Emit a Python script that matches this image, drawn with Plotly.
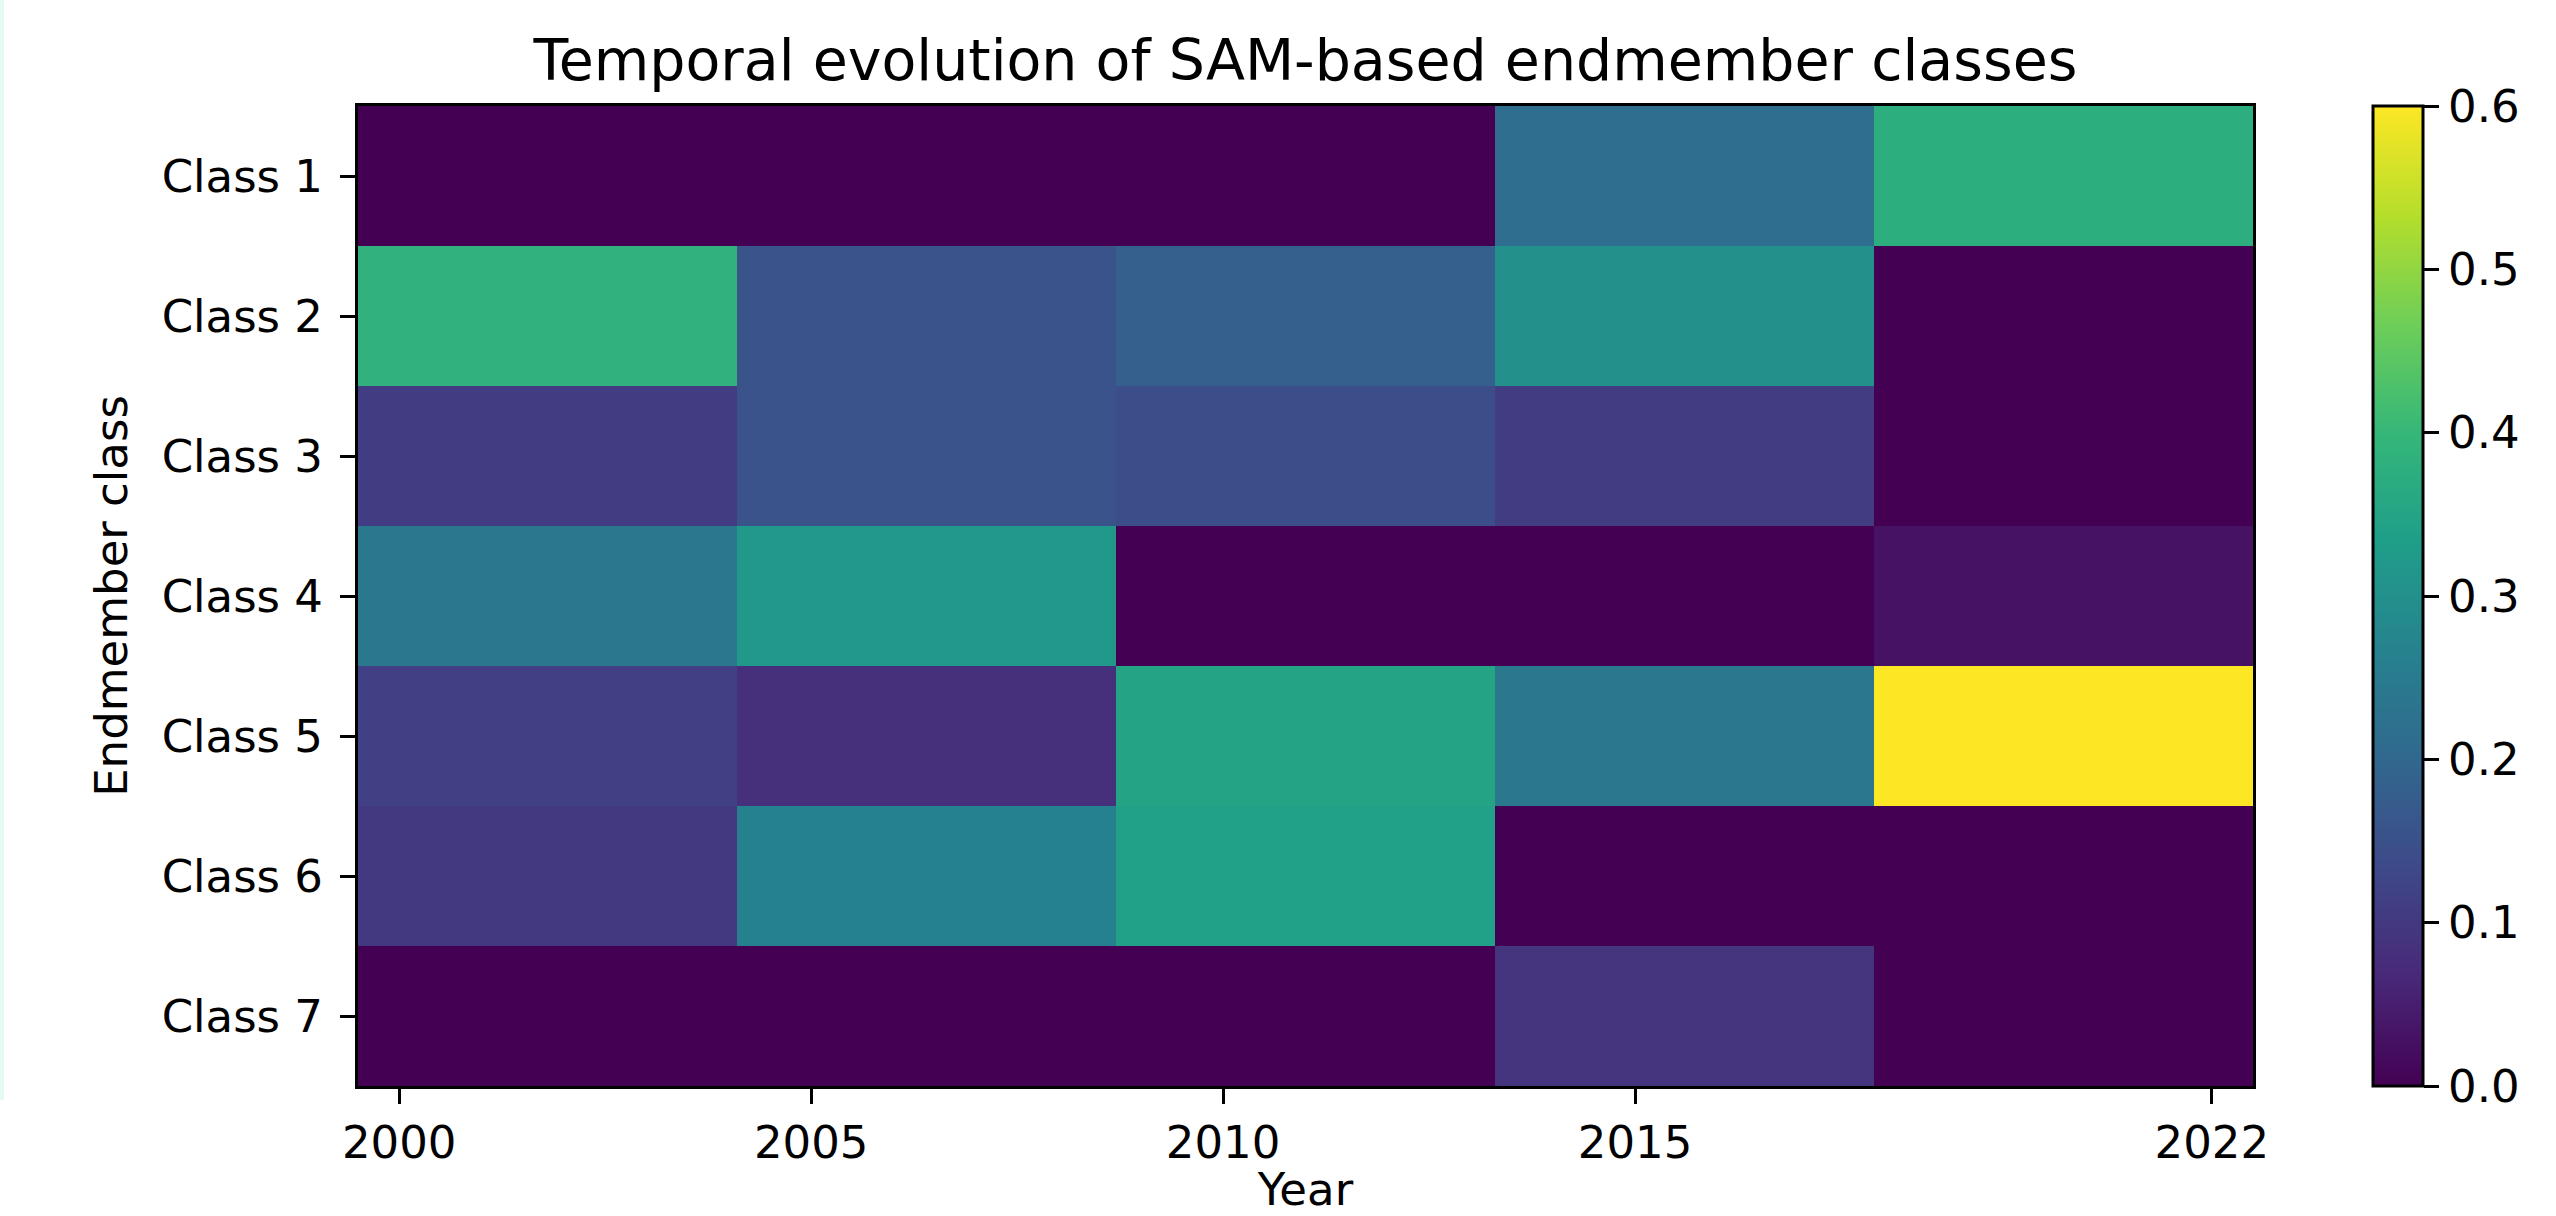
import numpy as np
import plotly.graph_objects as go

# ---- data ----
years = [2000, 2005, 2010, 2015, 2022]
classes = ["Class 1", "Class 2", "Class 3", "Class 4", "Class 5", "Class 6", "Class 7"]
class1 = [0.0, 0.0, 0.0, 0.215, 0.375]
class2 = [0.385, 0.155, 0.18, 0.30, 0.0]
class3 = [0.11, 0.155, 0.145, 0.11, 0.0]
class4 = [0.24, 0.32, 0.0, 0.0, 0.03]
class5 = [0.115, 0.08, 0.35, 0.24, 0.60]
class6 = [0.10, 0.265, 0.34, 0.0, 0.0]
class7 = [0.0, 0.0, 0.0, 0.09, 0.0]
cbar_ticks = [0.0, 0.1, 0.2, 0.3, 0.4, 0.5, 0.6]

z = [class1, class2, class3, class4, class5, class6, class7]

# imshow-like extent: from first year - 0.5 to last year + 0.5, equal-width cells
x_edges = np.linspace(years[0] - 0.5, years[-1] + 0.5, len(years) + 1)

W, H = 2556, 1216
L, R, T, B = 358, 2253, 106, 1086
FONT = "DejaVu Sans"
FS = 45

fig = go.Figure(
    go.Heatmap(
        z=z,
        x=x_edges,
        y=classes,
        colorscale="Viridis",
        zmin=0.0,
        zmax=0.6,
        colorbar=dict(
            thickness=50,
            thicknessmode="pixels",
            len=B - T,
            lenmode="pixels",
            xref="container",
            x=2373 / W,
            xanchor="left",
            yref="paper",
            y=0.5,
            yanchor="middle",
            xpad=0,
            ypad=0,
            outlinewidth=3,
            outlinecolor="black",
            ticks="outside",
            ticklen=15,
            tickwidth=3,
            tickcolor="black",
            tickvals=cbar_ticks,
            tickformat=".1f",
            tickprefix="\u2009",
            tickfont=dict(family=FONT, size=FS, color="black"),
        ),
        showscale=True,
    )
)

fig.update_layout(
    width=W,
    height=H,
    margin=dict(l=L, r=W - R, t=T, b=H - B, autoexpand=False),
    paper_bgcolor="white",
    plot_bgcolor="white",
    font=dict(family=FONT, size=FS, color="black"),
    title=dict(
        text="Temporal evolution of SAM-based endmember classes",
        font=dict(family=FONT, size=57, color="black"),
        x=(L + R) / 2 / W,
        xanchor="center",
        xref="container",
        y=1 - 60 / H,
        yanchor="middle",
        yref="container",
    ),
    xaxis=dict(
        range=[x_edges[0], x_edges[-1]],
        tickvals=years,
        ticktext=[str(y) for y in years],
        ticks="outside",
        ticklen=15,
        tickwidth=3,
        tickcolor="black",
        showline=True,
        linecolor="black",
        linewidth=3,
        mirror=True,
        showgrid=False,
        zeroline=False,
        tickfont=dict(family=FONT, size=FS, color="black"),
        title=dict(text="Year", font=dict(family=FONT, size=FS, color="black"), standoff=30),
    ),
    yaxis=dict(
        autorange="reversed",
        ticks="outside",
        ticklen=15,
        tickwidth=3,
        tickcolor="black",
        showline=True,
        linecolor="black",
        linewidth=3,
        mirror=True,
        showgrid=False,
        zeroline=False,
        tickfont=dict(family=FONT, size=FS, color="black"),
        ticklabelstandoff=8,
        title=dict(text="Endmember class", font=dict(family=FONT, size=FS, color="black"), standoff=20),
    ),
    annotations=[
        dict(
            text="Mean proportion",
            textangle=-90,
            xref="paper",
            yref="paper",
            x=(2547 - L) / (R - L),
            y=0.5,
            xanchor="left",
            yanchor="middle",
            showarrow=False,
            font=dict(family=FONT, size=FS, color="black"),
        )
    ],
    shapes=[
        dict(
            type="rect",
            xref="paper",
            yref="paper",
            x0=(0 - L) / (R - L),
            x1=(4 - L) / (R - L),
            y0=(B - 1100) / (B - T),
            y1=(B - 0) / (B - T),
            fillcolor="#e6faf4",
            line=dict(width=0),
            layer="below",
        )
    ],
)

fig.write_html(
    "out.html",
    config=dict(displayModeBar=False),
    post_script="document.body.style.margin='0px';document.body.style.overflow='hidden';",
)
